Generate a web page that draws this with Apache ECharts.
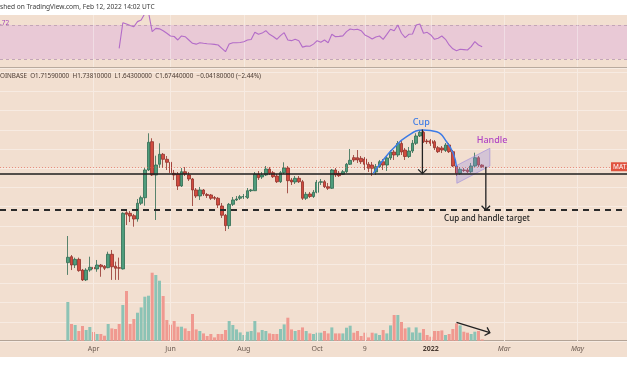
<!DOCTYPE html>
<html>
<head>
<meta charset="utf-8">
<script src="https://cdn.jsdelivr.net/npm/echarts@6/dist/echarts.min.js"></script>
<style>
  html, body { margin: 0; padding: 0; background: #fff; }
  #chart { width: 627px; height: 376px; }
</style>
</head>
<body>
<div id="chart"></div>
<script>
// MATIC/USD 3-day candles, Coinbase. Slot 0 = 2021-01-15, one slot per 3 days.
const slotCount = 171
const firstSlot = 18

const opens = [0.400, 0.437, 0.386, 0.420, 0.358, 0.309, 0.358, 0.373, 0.364, 0.386, 0.379, 0.371, 0.453, 0.379, 0.371,
  0.364, 0.843, 0.835, 0.806, 0.767, 0.970, 1.054, 1.594, 2.432, 1.479, 1.736, 2.015, 1.870, 1.788, 1.517,
  1.501, 1.255, 1.554, 1.479, 1.394, 1.183, 1.081, 1.183, 1.106, 1.098, 1.057, 1.045, 0.931, 0.811, 0.694,
  0.955, 1.019, 1.045, 1.065, 1.054, 1.170, 1.170, 1.501, 1.436, 1.479, 1.618, 1.531, 1.457, 1.338, 1.531,
  1.642, 1.373, 1.333, 1.408, 1.338, 1.045, 1.114, 1.073, 1.143, 1.327, 1.338, 1.242, 1.213, 1.594, 1.517,
  1.495, 1.554, 1.736, 1.915, 1.915, 1.898, 1.878, 1.736, 1.717, 1.547, 1.674, 1.804, 1.717, 1.907, 2.085,
  1.994, 2.367, 2.148, 1.950, 2.116, 2.374, 2.648, 2.798, 2.457, 2.468, 2.432, 2.223, 2.214, 2.132, 2.315,
  2.095, 1.692, 1.517, 1.594, 1.594, 1.554, 1.692, 1.915, 1.7159]
const closes = [0.433, 0.386, 0.420, 0.355, 0.309, 0.358, 0.373, 0.364, 0.386, 0.376, 0.368, 0.453, 0.376, 0.368, 0.368,
  0.835, 0.823, 0.802, 0.767, 0.970, 1.054, 1.594, 2.410, 1.479, 1.717, 2.015, 1.870, 1.788, 1.531, 1.479,
  1.255, 1.554, 1.501, 1.394, 1.183, 1.081, 1.183, 1.114, 1.089, 1.045, 1.045, 0.945, 0.811, 0.694, 0.955,
  1.019, 1.034, 1.070, 1.073, 1.170, 1.183, 1.501, 1.421, 1.479, 1.618, 1.517, 1.442, 1.338, 1.531, 1.642,
  1.359, 1.333, 1.408, 1.338, 1.045, 1.109, 1.073, 1.143, 1.327, 1.338, 1.242, 1.213, 1.594, 1.479, 1.464,
  1.554, 1.736, 1.842, 1.851, 1.851, 1.804, 1.736, 1.635, 1.635, 1.674, 1.804, 1.717, 1.907, 2.085, 1.994,
  2.367, 2.085, 1.950, 2.116, 2.374, 2.648, 2.798, 2.432, 2.432, 2.374, 2.223, 2.095, 2.148, 2.315, 2.095,
  1.692, 1.517, 1.611, 1.582, 1.554, 1.692, 1.915, 1.717, 1.6744]
const lows = [0.333, 0.358, 0.369, 0.349, 0.304, 0.304, 0.349, 0.353, 0.349, 0.324, 0.358, 0.368, 0.309, 0.309, 0.309,
  0.361, 0.701, 0.733, 0.684, 0.737, 0.945, 0.935, 1.570, 1.457, 0.756, 1.642, 1.642, 1.594, 1.479, 1.373,
  1.183, 1.237, 1.457, 1.353, 0.931, 1.050, 1.019, 1.081, 1.050, 1.019, 1.019, 0.904, 0.779, 0.641, 0.661,
  0.931, 1.004, 1.019, 1.034, 1.034, 1.148, 1.165, 1.373, 1.394, 1.457, 1.479, 1.415, 1.313, 1.313, 1.501,
  1.126, 1.274, 1.293, 1.313, 1.019, 1.019, 1.050, 1.050, 1.126, 1.274, 1.218, 1.183, 1.200, 1.436, 1.436,
  1.479, 1.524, 1.717, 1.796, 1.770, 1.743, 1.594, 1.547, 1.457, 1.479, 1.642, 1.594, 1.570, 1.850, 1.851,
  1.935, 1.994, 1.851, 1.907, 2.054, 2.315, 2.608, 2.385, 2.350, 2.280, 2.148, 2.054, 2.054, 2.085, 2.054,
  1.667, 1.457, 1.479, 1.547, 1.524, 1.524, 1.667, 1.667, 1.643]
const highs = [0.595, 0.448, 0.431, 0.431, 0.364, 0.368, 0.437, 0.380, 0.416, 0.392, 0.386, 0.471, 0.483, 0.406, 0.431,
  0.848, 0.864, 0.864, 0.826, 1.034, 1.086, 1.642, 2.757, 2.559, 1.973, 2.374, 2.054, 1.964, 1.851, 1.594,
  1.547, 1.642, 1.667, 1.547, 1.415, 1.218, 1.237, 1.200, 1.131, 1.114, 1.081, 1.065, 0.974, 0.826, 0.974,
  1.065, 1.081, 1.098, 1.114, 1.218, 1.200, 1.547, 1.570, 1.547, 1.692, 1.667, 1.570, 1.501, 1.570, 1.788,
  1.692, 1.415, 1.457, 1.457, 1.373, 1.148, 1.148, 1.183, 1.373, 1.394, 1.373, 1.313, 1.618, 1.642, 1.570,
  1.594, 1.770, 2.181, 1.994, 2.148, 1.964, 1.935, 1.796, 1.796, 1.743, 1.851, 1.878, 1.964, 2.148, 2.148,
  2.457, 2.457, 2.214, 2.247, 2.494, 2.757, 2.895, 2.853, 2.532, 2.532, 2.494, 2.280, 2.280, 2.385, 2.385,
  2.148, 1.717, 1.667, 1.642, 1.642, 1.770, 2.064, 1.964, 1.7381]
const volumes = [38.7, 16.7, 15.7, 9.7, 14.7, 10.7, 13.7, 8.7, 6.7, 6.7, 5, 16.7, 12.3, 11.7, 16.7,
  35.7, 49.7, 16.7, 21.7, 28, 33.3, 44, 45, 68, 65.7, 60, 44.7, 20.7, 16, 19.7,
  14, 14, 12.3, 9.7, 26.7, 11.3, 9.7, 7.3, 4.7, 6.7, 3.3, 6.7, 6.7, 10.7, 19.7,
  15.7, 11.3, 8.3, 5.7, 9, 9.7, 19.7, 8.3, 10.7, 9.7, 7.3, 6.7, 6.7, 11.7, 16.3,
  23, 11.3, 9.7, 10.7, 13.3, 9.7, 7.3, 6.7, 8, 8, 9.7, 7.3, 13.3, 7.3, 7.3,
  7.3, 13, 15, 8, 9.7, 4.7, 8, 3.3, 8, 7.3, 5.7, 10.7, 7.3, 15.3, 25.7,
  25.7, 18.7, 12.3, 13.3, 8.3, 13.3, 8, 11.7, 5.7, 4, 9.7, 9.7, 10.3, 5.7, 6.7,
  11.7, 17.3, 15.3, 9, 8, 6.7, 9, 9.7, 1.3]

// RSI(14), first value at slot 32
const rsiFirstSlot = 32
const rsiValues = [42.6, 72.7, 71.2, 69.5, 68.0, 74.0, 75.9, 83.5, 85, 62.2, 66.1, 65.5, 63.3, 60.3, 57.1,
  56.5, 52.4, 57.1, 56.3, 52.4, 48.5, 47.5, 49.2, 48.5, 48.0, 47.7, 47.2, 46.5, 42.6, 38.6,
  47.7, 49.2, 49.2, 49.5, 50.4, 52.4, 53, 61.4, 59.1, 60.5, 63.3, 59.1, 56.5, 53.2, 57.5,
  61, 52.4, 51.6, 53.2, 51.5, 44, 45.2, 45, 47.5, 51.6, 49.7, 52.4, 49.2, 59.1, 56.3,
  56.6, 57.2, 62.2, 65.3, 64.5, 65, 63.3, 58.3, 56.3, 53.6, 56, 57.1, 53.2, 59, 65,
  63.3, 70, 60.3, 55.1, 59.1, 59.5, 70, 71.2, 60.3, 61.4, 58.3, 53.2, 54.5, 57.1, 53.2,
  46.5, 42, 39.8, 41.4, 41, 40.6, 44.5, 50.4, 46.5, 44.5]

const tickSlots = [25, 46, 66, 86, 99, 117, 137, 157]
const tickTexts = ['Apr', 'Jun', 'Aug', 'Oct', '9', '{b|2022}', '{i|Mar}', '{i|May}']

// drawings on the chart
const neckline = 1.50
const target = 0.877
const lastPrice = 1.6744
const cupPoints = [[101.3, 1.517], [104.0, 1.851], [106.8, 2.204], [110.4, 2.620], [114.9, 2.895],
  [118.6, 2.823], [121.3, 2.432], [123.1, 2.045], [124.0, 1.674]]
const handleBox = [[124.0, 1.704, 124.1, 1.307, 133.1, 1.692, 133.1, 2.204]]
const priceArrows = [[114.7, 2.92, 114.7, 1.51], [132.0, 1.674, 132.0, 0.877]]
const volumeArrows = [[124.0, 18.4, 133.1, 8]]
const notes = [
  { name: 'Cup', value: [114.4, 3.26], color: '#3c7be6', size: 9 },
  { name: 'Handle', value: [133.7, 2.46], color: '#b044c4', size: 9 },
  { name: 'Cup and handle target', value: [132.3, 0.767], color: '#222', size: 8 }
]

const bg = '#f2dfd0'
const upColor = '#4f9d7c', downColor = '#d24b3f'
const upBorder = '#2f6b52', downBorder = '#92302a'
const upVol = '#8cc3b5', downVol = '#f09990'
const gridColor = '#f7ebe2'

const slots = []
for (let i = 0; i < slotCount; i++) {
  const d = new Date(Date.UTC(2021, 0, 15 + 3 * i))
  slots.push(d.toISOString().slice(0, 10))
}
const empty = n => new Array(n).fill(['-', '-', '-', '-'])
const candleData = empty(firstSlot).concat(opens.map((o, k) => [o, closes[k], lows[k], highs[k]]))
const volData = new Array(firstSlot).fill('-').concat(volumes.map((v, k) => ({
  value: v,
  itemStyle: { color: closes[k] >= opens[k] ? upVol : downVol }
})))
const rsiData = new Array(rsiFirstSlot).fill('-').concat(rsiValues)
const vLines = tickSlots.map(s => ({ xAxis: s }))

function arrowItem(params, api) {
  const a = api.coord([api.value(0), api.value(1)])
  const b = api.coord([api.value(2), api.value(3)])
  const ang = Math.atan2(b[1] - a[1], b[0] - a[0])
  const len = 6
  const p1 = [b[0] - len * Math.cos(ang - Math.PI / 4), b[1] - len * Math.sin(ang - Math.PI / 4)]
  const p2 = [b[0] - len * Math.cos(ang + Math.PI / 4), b[1] - len * Math.sin(ang + Math.PI / 4)]
  return {
    type: 'group',
    children: [
      { type: 'line', shape: { x1: a[0], y1: a[1], x2: b[0], y2: b[1] }, style: { stroke: '#222', lineWidth: 1.3 } },
      { type: 'polyline', shape: { points: [p1, b, p2] }, style: { stroke: '#222', lineWidth: 1.3, fill: null } }
    ]
  }
}

function boxItem(params, api) {
  const pts = []
  for (let k = 0; k < 8; k += 2) pts.push(api.coord([api.value(k), api.value(k + 1)]))
  return {
    type: 'polygon',
    shape: { points: pts },
    style: { fill: 'rgba(150,140,225,0.32)', stroke: 'rgba(150,130,220,0.55)', lineWidth: 1 }
  }
}

function noteItem(params, api) {
  const n = notes[params.dataIndex]
  const p = api.coord([api.value(0), api.value(1)])
  return {
    type: 'text', x: p[0], y: p[1],
    style: { text: n.name, fill: n.color, fontSize: n.size, fontWeight: 500, fontFamily: 'Noto Sans', align: 'center', verticalAlign: 'middle' }
  }
}

const chart = echarts.init(document.getElementById('chart'))
chart.setOption({
  backgroundColor: bg,
  animation: false,
  textStyle: { fontFamily: 'Noto Sans' },
  grid: [
    { left: 0, right: 0, top: 15, height: 52 },
    { left: 0, right: 0, top: 68, height: 273 },
    { left: 0, right: 0, top: 240.7, height: 100 }
  ],
  xAxis: [
    { type: 'category', gridIndex: 0, data: slots, show: false },
    { type: 'category', gridIndex: 1, data: slots, show: false },
    {
      type: 'category', gridIndex: 2, data: slots,
      axisLine: { lineStyle: { color: '#b3a396', width: 1 } },
      axisTick: { show: false },
      axisLabel: {
        interval: idx => tickSlots.includes(idx),
        formatter: (val, idx) => tickTexts[tickSlots.indexOf(idx)] || '',
        color: '#6a5a50', fontSize: 7, margin: 5,
        rich: {
          b: { fontWeight: 'bold', fontSize: 7, color: '#4a3c34' },
          i: { fontStyle: 'italic', fontSize: 7, color: '#6a5a50' }
        }
      }
    },
    { type: 'value', gridIndex: 1, min: -0.5, max: slotCount - 0.5, show: false },
    { type: 'value', gridIndex: 2, min: -0.5, max: slotCount - 0.5, show: false }
  ],
  yAxis: [
    { type: 'value', gridIndex: 0, min: 20.6, max: 81.8, show: false },
    { type: 'log', gridIndex: 1, min: 0.12416, max: 7.305, show: false },
    { type: 'value', gridIndex: 2, min: 0, max: 100, show: false },
    {
      type: 'value', gridIndex: 1, min: 0, max: 273, interval: 19.2,
      axisLine: { show: false }, axisTick: { show: false }, axisLabel: { show: false },
      splitLine: { lineStyle: { color: gridColor, width: 1 } }
    }
  ],
  series: [
    {
      name: 'RSI', type: 'line', xAxisIndex: 0, yAxisIndex: 0, data: rsiData,
      symbol: 'none', lineStyle: { color: '#b36cc8', width: 1.1 }, z: 5,
      markArea: {
        silent: true,
        itemStyle: { color: '#e9c9d6' },
        data: [[{ yAxis: 70 }, { yAxis: 30 }]]
      },
      markLine: {
        silent: true, symbol: 'none', label: { show: false },
        data: [
          { yAxis: 70, lineStyle: { type: [3, 3], color: '#c3a5b7', width: 1 } },
          { yAxis: 30, lineStyle: { type: [3, 3], color: '#c3a5b7', width: 1 } }
        ].concat(vLines.map(v => Object.assign({ lineStyle: { type: 'solid', color: 'rgba(255,255,255,0.35)', width: 1 } }, v)))
      }
    },
    {
      name: 'grid', type: 'line', xAxisIndex: 1, yAxisIndex: 1, data: [], z: 1,
      markLine: {
        silent: true, symbol: 'none', label: { show: false },
        lineStyle: { type: 'solid', color: gridColor, width: 1 },
        data: vLines
      }
    },
    {
      name: 'Volume', type: 'bar', xAxisIndex: 2, yAxisIndex: 2, data: volData,
      barWidth: 3, z: 2
    },
    {
      name: 'MATICUSD', type: 'candlestick', xAxisIndex: 1, yAxisIndex: 1, data: candleData,
      barWidth: 3, z: 3,
      itemStyle: { color: upColor, color0: downColor, borderColor: upBorder, borderColor0: downBorder, borderWidth: 0.8 },
      markLine: {
        silent: true, symbol: 'none', label: { show: false },
        data: [
          { yAxis: lastPrice, lineStyle: { type: [1, 2], color: '#e05a4a', width: 1, opacity: 0.6 } },
          { yAxis: neckline, lineStyle: { type: 'solid', color: '#1e1e1e', width: 1.5 } },
          { yAxis: target, lineStyle: { type: [6, 5], color: '#2a2a2a', width: 1.8 } }
        ]
      }
    },
    {
      name: 'Cup', type: 'line', xAxisIndex: 3, yAxisIndex: 1, data: cupPoints,
      smooth: true, symbol: 'none', lineStyle: { color: '#3c7be6', width: 1.5 }, z: 6
    },
    {
      name: 'Handle', type: 'custom', xAxisIndex: 3, yAxisIndex: 1, data: handleBox,
      renderItem: boxItem, z: 4, silent: true
    },
    {
      name: 'Arrows', type: 'custom', xAxisIndex: 3, yAxisIndex: 1, data: priceArrows,
      renderItem: arrowItem, z: 7, silent: true
    },
    {
      name: 'VolArrow', type: 'custom', xAxisIndex: 4, yAxisIndex: 2, data: volumeArrows,
      renderItem: arrowItem, z: 7, silent: true
    },
    {
      name: 'Notes', type: 'custom', xAxisIndex: 3, yAxisIndex: 1, z: 8, silent: true,
      data: notes.map(n => n.value), renderItem: noteItem
    }
  ],
  graphic: [
    { id: 'topWhite', type: 'rect', shape: { x: 0, y: 0, width: 627, height: 15 }, style: { fill: '#fff' }, z: 100 },
    { id: 'bottomWhite', type: 'rect', shape: { x: 0, y: 357, width: 627, height: 19 }, style: { fill: '#fff' }, z: 100 },
    { id: 'sep', type: 'line', shape: { x1: 0, y1: 67.5, x2: 627, y2: 67.5 }, style: { stroke: '#b9aa9e', lineWidth: 1 }, z: 100 },
    {
      id: 'title', type: 'text', x: 0, y: 7, z: 101,
      style: { text: 'shed on TradingView.com, Feb 12, 2022 14:02 UTC', fill: '#3a3a3a', fontSize: 6.6, fontFamily: 'Noto Sans', verticalAlign: 'middle' }
    },
    {
      id: 'rsiVal', type: 'text', x: 0, y: 23, z: 101,
      style: { text: '.72', fill: '#a145b8', fontSize: 6.6, fontFamily: 'Noto Sans', verticalAlign: 'middle' }
    },
    {
      id: 'header', type: 'text', x: 0, y: 76, z: 101,
      style: {
        text: 'OINBASE  O1.71590000  H1.73810000  L1.64300000  C1.67440000  \u22120.04180000 (\u22122.44%)',
        fill: '#4a3b33', fontSize: 6.3, fontFamily: 'Noto Sans', verticalAlign: 'middle'
      }
    }
  ]
})

// last-price tag on the right edge, placed at the close price
const tagY = chart.convertToPixel({ yAxisIndex: 1 }, lastPrice)
chart.setOption({
  graphic: [
    { id: 'tagBox', type: 'rect', shape: { x: 611, y: tagY - 4.5, width: 40, height: 9 }, style: { fill: '#e0533f' }, z: 102 },
    {
      id: 'tagText', type: 'text', x: 613, y: tagY, z: 103,
      style: { text: 'MATICUSD', fill: '#fff', fontSize: 6.5, fontFamily: 'Noto Sans', verticalAlign: 'middle' }
    }
  ]
})
</script>
</body>
</html>
